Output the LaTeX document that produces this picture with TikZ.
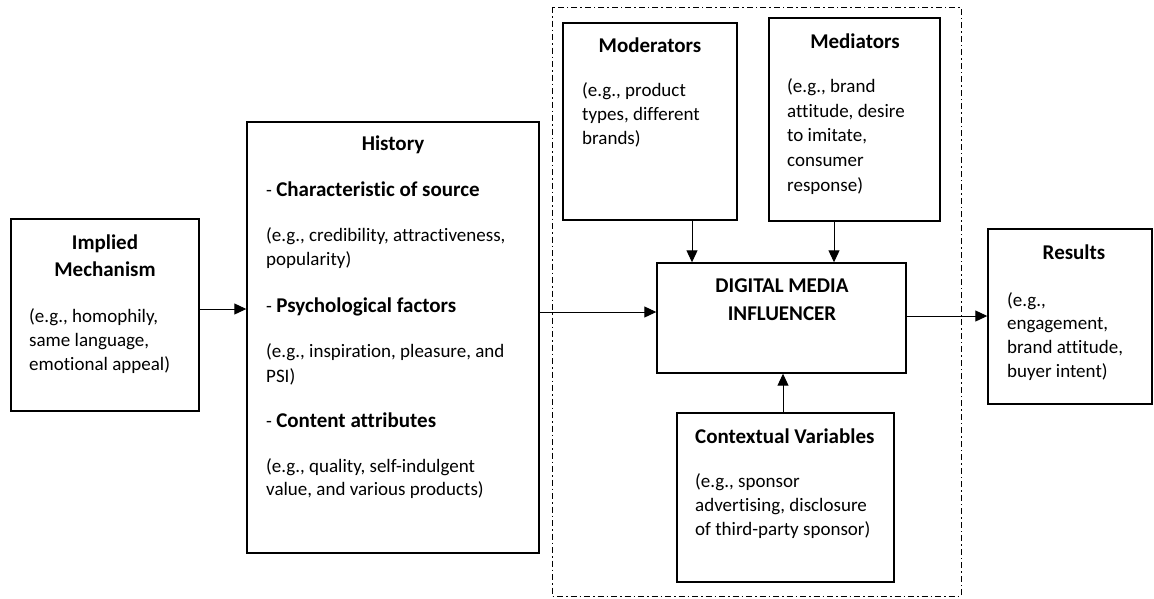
\documentclass[tikz,border=0pt]{standalone}
\usepackage{fontspec}
\setmainfont{Carlito}[Ligatures=CommonOff]
\usetikzlibrary{arrows.meta}
\newcommand{\boldhead}[1]{{\fontsize{21pt}{25pt}\selectfont\bfseries #1}}
\tikzset{
  box/.style={draw, line width=1.4pt, inner sep=0pt},
  txt/.style={inner sep=0pt, anchor=west, text height=13pt, text depth=4pt, font=\fontsize{19pt}{23pt}\selectfont},
  ttl/.style={inner sep=0pt, anchor=center, text height=14pt, text depth=4pt, font=\fontsize{21pt}{25pt}\selectfont\bfseries},
  arr/.style={line width=1pt, -{Triangle[length=12pt,width=11pt]}},
  frame/.style={line width=1pt, dash pattern=on 6pt off 3pt on 1.5pt off 3pt}
}
\begin{document}
\begin{tikzpicture}[x=1pt,y=-1pt]
\useasboundingbox (0,0) rectangle (1154,598);
% dash-dot frame
\draw[frame] (552,7) rectangle (961,596);
% boxes
\node[box, minimum width=188pt, minimum height=192pt] (imp) at (105,315) {};
\node[box, minimum width=292pt, minimum height=431pt] (hist) at (393,337.5) {};
\node[box, minimum width=174pt, minimum height=197pt] (mod) at (650,121.5) {};
\node[box, minimum width=171pt, minimum height=203pt] (med) at (854.5,119.5) {};
\node[box, minimum width=249pt, minimum height=110pt] (dmi) at (781.5,318) {};
\node[box, minimum width=217pt, minimum height=169pt] (ctx) at (785.5,497.5) {};
\node[box, minimum width=164pt, minimum height=175pt] (res) at (1070,316.5) {};
% Implied Mechanism
\node[ttl] (imp1) at (105,244) {Implied};
\node[ttl] (imp2) at (105,271) {Mechanism};
\node[txt] (imp3) at (29,318) {(e.g., homophily,};
\node[txt] (imp4) at (29,342) {same language,};
\node[txt] (imp5) at (29,366) {emotional appeal)};
% History
\node[ttl] (h0) at (393,145) {History};
\node[txt] (h1) at (266,192) {- \boldhead{Characteristic of source}};
\node[txt] (h2) at (266,237) {(e.g., credibility, attractiveness,};
\node[txt] (h3) at (266,261) {popularity)};
\node[txt] (h4) at (266,308) {- \boldhead{Psychological factors}};
\node[txt] (h5) at (266,353) {(e.g., inspiration, pleasure, and};
\node[txt] (h6) at (266,378) {PSI)};
\node[txt] (h7) at (266,423) {- \boldhead{Content attributes}};
\node[txt] (h8) at (266,468) {(e.g., quality, self-indulgent};
\node[txt] (h9) at (266,491) {value, and various products)};
% Moderators
\node[ttl] (m0) at (650,47) {Moderators};
\node[txt] (m1) at (582,92) {(e.g., product};
\node[txt] (m2) at (582,116) {types, different};
\node[txt] (m3) at (582,140) {brands)};
% Mediators
\node[ttl] (d0) at (855,43) {Mediators};
\node[txt] (d1) at (787,88) {(e.g., brand};
\node[txt] (d2) at (787,113) {attitude, desire};
\node[txt] (d3) at (787,137) {to imitate,};
\node[txt] (d4) at (787,162) {consumer};
\node[txt] (d5) at (787,187) {response)};
% Digital media influencer
\node[ttl] (g1) at (782,287) {DIGITAL MEDIA};
\node[ttl] (g2) at (782,315) {INFLUENCER};
% Contextual variables
\node[ttl, anchor=west] (c0) at (695,438) {Contextual Variables};
\node[txt] (c1) at (695,483) {(e.g., sponsor};
\node[txt] (c2) at (695,507) {advertising, disclosure};
\node[txt] (c3) at (695,531) {of third-party sponsor)};
% Results
\node[ttl] (r0) at (1074,254) {Results};
\node[txt] (r1) at (1007,302) {(e.g.,};
\node[txt] (r2) at (1007,325) {engagement,};
\node[txt] (r3) at (1007,349) {brand attitude,};
\node[txt] (r4) at (1007,373) {buyer intent)};
% connectors
\draw[arr] (imp.east |- 0,309) -- (hist.west |- 0,309);
\draw[arr] (hist.east |- 0,312) -- (dmi.west |- 0,312);
\draw[arr] (dmi.east |- 0,316) -- (res.west |- 0,316);
\draw[arr] (mod.south -| 692,0) -- (dmi.north -| 692,0);
\draw[arr] (med.south -| 834,0) -- (dmi.north -| 834,0);
\draw[arr] (ctx.north -| 783,0) -- (dmi.south -| 783,0);
\end{tikzpicture}
\end{document}
